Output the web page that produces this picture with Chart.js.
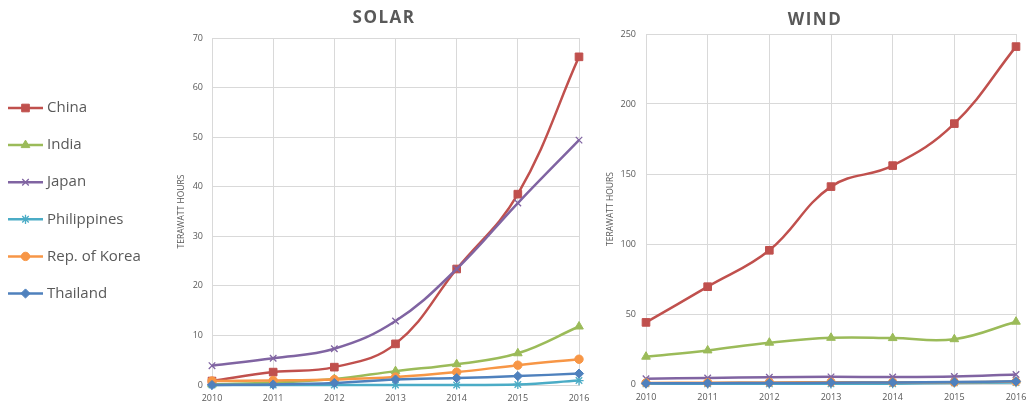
<!DOCTYPE html>
<html lang="en">
<head>
<meta charset="UTF-8" />
<title>Solar and Wind Generation</title>
<script src="https://cdn.jsdelivr.net/npm/chart.js"></script>
<style>
  html, body { margin: 0; padding: 0; background: #fff; }
  body { width: 1029px; height: 408px; position: relative; overflow: hidden; }
  .panel { position: absolute; top: 0; height: 408px; }
</style>
</head>
<body>
<div class="panel" style="left:0;width:590px"><canvas id="solarChart"></canvas></div>
<div class="panel" style="left:590px;width:439px"><canvas id="windChart"></canvas></div>
<script>
// categories
const years = ["2010", "2011", "2012", "2013", "2014", "2015", "2016"];
const countries = ["China", "India", "Japan", "Philippines", "Rep. of Korea", "Thailand"];

// solar generation, TWh
const solarChina = [0.8, 2.6, 3.6, 8.3, 23.4, 38.5, 66.2];
const solarIndia = [0.1, 0.5, 1.2, 2.8, 4.2, 6.4, 11.8];
const solarJapan = [3.9, 5.4, 7.3, 12.9, 23.4, 36.7, 49.4];
const solarPhilippines = [0.0, 0.0, 0.0, 0.0, 0.0, 0.1, 0.9];
const solarKorea = [0.8, 0.9, 1.1, 1.6, 2.6, 4.0, 5.2];
const solarThailand = [0.0, 0.1, 0.4, 1.1, 1.4, 1.8, 2.3];

// wind generation, TWh
const windChina = [44.0, 69.5, 95.5, 141.0, 156.0, 186.0, 241.0];
const windIndia = [19.5, 24.0, 29.5, 33.0, 32.8, 32.0, 44.5];
const windJapan = [3.8, 4.3, 4.8, 5.1, 5.0, 5.4, 6.8];
const windPhilippines = [0.1, 0.1, 0.1, 0.1, 0.2, 0.8, 1.0];
const windKorea = [0.8, 0.9, 1.1, 1.2, 1.2, 1.3, 1.7];
const windThailand = [0.5, 0.6, 0.7, 0.9, 1.1, 1.4, 1.9];

// series styling
const colors = ["#C0504D", "#9BBB59", "#8064A2", "#4BACC6", "#F79646", "#4F81BD"];
const markers = ["rect", "triangle", "crossRot", "star", "circle", "rectRot"];
const markerSizes = [5.4, 5, 4.6, 4.6, 4.2, 4.6];

const textGray = "#595959";
const gridGray = "#D9D9D9";
Chart.defaults.font.family = '"Open Sans", "DejaVu Sans", sans-serif';
Chart.defaults.color = textGray;

function makeSets(values) {
  return countries.map((name, i) => {
    const open = markers[i] === "crossRot" || markers[i] === "star";
    return {
      label: name,
      data: values[i],
      borderColor: colors[i],
      backgroundColor: colors[i],
      pointBackgroundColor: colors[i],
      pointBorderColor: colors[i],
      pointStyle: markers[i],
      pointRadius: markerSizes[i],
      pointHoverRadius: markerSizes[i],
      pointBorderWidth: open ? 1.3 : 1,
      borderWidth: 2.5,
      tension: 0.4,
      clip: false,
      order: countries.length - i // later series drawn on top, like the original
    };
  });
}

// title over each panel, drawn with a little letter spacing
const panelTitle = {
  id: "panelTitle",
  afterDraw(chart, args, opts) {
    const ctx = chart.ctx;
    ctx.save();
    ctx.font = 'bold 17px "Open Sans", sans-serif';
    if ("letterSpacing" in ctx) ctx.letterSpacing = "1.5px";
    ctx.fillStyle = textGray;
    ctx.textAlign = "center";
    ctx.textBaseline = "middle";
    ctx.fillText(opts.text, opts.x, opts.y);
    ctx.restore();
  }
};

// legend on the far left: short line with the marker in its middle
const sideLegend = {
  id: "sideLegend",
  afterDraw(chart, args, opts) {
    if (!opts.show) return;
    const ctx = chart.ctx;
    const drawPoint = Chart.helpers && Chart.helpers.drawPoint;
    ctx.save();
    chart.data.datasets.forEach((ds, i) => {
      const y = opts.top + i * opts.gap;
      ctx.strokeStyle = ds.borderColor;
      ctx.lineWidth = ds.borderWidth;
      ctx.beginPath();
      ctx.moveTo(opts.left, y);
      ctx.lineTo(opts.left + opts.lineLen, y);
      ctx.stroke();
      const mx = opts.left + opts.lineLen / 2;
      ctx.fillStyle = ds.pointBackgroundColor;
      ctx.strokeStyle = ds.pointBorderColor;
      ctx.lineWidth = ds.pointBorderWidth;
      if (drawPoint) {
        drawPoint(ctx, { pointStyle: ds.pointStyle, radius: ds.pointRadius, borderWidth: ds.pointBorderWidth, rotation: 0 }, mx, y);
      } else {
        ctx.fillRect(mx - 4, y - 4, 8, 8);
      }
      ctx.fillStyle = textGray;
      ctx.font = '15px "Open Sans", sans-serif';
      ctx.textAlign = "left";
      ctx.textBaseline = "middle";
      ctx.fillText(ds.label, opts.left + opts.lineLen + 4, y);
    });
    ctx.restore();
  }
};

function makeOptions(cfg) {
  return {
    responsive: true,
    maintainAspectRatio: false,
    animation: false,
    layout: { padding: cfg.padding },
    plugins: {
      legend: { display: false },
      tooltip: { enabled: false },
      panelTitle: cfg.title,
      sideLegend: cfg.legend
    },
    scales: {
      x: {
        offset: false,
        grid: { color: gridGray, drawTicks: false },
        border: { color: gridGray },
        ticks: { font: { size: 9 }, padding: 8, maxRotation: 0 },
        afterFit: (scale) => {
          scale.height = cfg.xHeight;
          // edge labels may hang over the padding, as in the original
          scale.paddingLeft = 0;
          scale.paddingRight = 0;
        }
      },
      y: {
        min: 0,
        max: cfg.max,
        grid: { color: gridGray, drawTicks: false },
        border: { display: false },
        ticks: { stepSize: cfg.step, font: { size: 9 }, padding: cfg.tickPad },
        title: { display: true, text: "TERAWATT HOURS", font: { size: 8.5 }, padding: { top: 4, bottom: 0 } },
        afterFit: (scale) => { scale.width = cfg.yWidth; }
      }
    }
  };
}

const solarChart = new Chart(document.getElementById("solarChart"), {
  type: "line",
  data: {
    labels: years,
    datasets: makeSets([solarChina, solarIndia, solarJapan, solarPhilippines, solarKorea, solarThailand])
  },
  options: makeOptions({
    padding: { left: 172, top: 38, right: 11, bottom: 0 },
    max: 70, step: 10, tickPad: 9, yWidth: 40, xHeight: 23,
    title: { text: "SOLAR", x: 384, y: 18 },
    legend: { show: true, left: 8, lineLen: 35, top: 108, gap: 37.1 }
  }),
  plugins: [panelTitle, sideLegend]
});

const windChart = new Chart(document.getElementById("windChart"), {
  type: "line",
  data: {
    labels: years,
    datasets: makeSets([windChina, windIndia, windJapan, windPhilippines, windKorea, windThailand])
  },
  options: makeOptions({
    padding: { left: 11, top: 34, right: 13, bottom: 0 },
    max: 250, step: 50, tickPad: 10, yWidth: 45, xHeight: 24,
    title: { text: "WIND", x: 225, y: 20 },
    legend: { show: false }
  }),
  plugins: [panelTitle, sideLegend]
});
</script>
</body>
</html>
